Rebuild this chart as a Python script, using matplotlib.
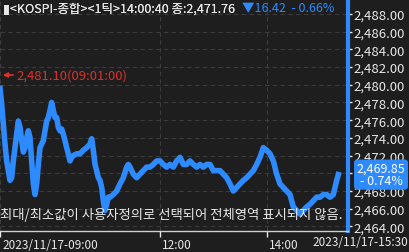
import matplotlib
matplotlib.use("Agg")
import matplotlib.pyplot as plt
import matplotlib.transforms as mtransforms

plt.rcParams['font.family'] = ['Noto Sans CJK KR', 'DejaVu Sans']

# tick position (chart ticks) and KOSPI price
tick_pos = [0, 5, 10, 15, 20, 25, 30, 35, 40, 45, 50, 55, 60, 65, 70, 75, 80, 85, 90, 95,
            100, 105, 110, 115, 120, 125, 130, 135, 140, 145, 150, 155, 160, 165, 170, 175,
            180, 185, 190, 195, 200, 205, 210, 215, 220, 230, 240, 250, 260, 270, 275, 280,
            285, 290, 295, 300, 305, 310, 315, 320, 325, 330, 340, 350, 360, 370, 380, 385,
            390, 400, 410, 420, 430, 440, 450, 460, 470, 480, 490, 500, 510, 520, 530, 540,
            550, 560, 570, 580, 590, 600, 610, 620, 630, 640, 650, 660, 670, 680, 690, 700,
            710, 720, 730, 740, 750, 760, 770, 780, 790, 800, 810, 820, 830, 840, 850, 860,
            870, 880, 890, 900, 910, 920, 930, 940, 950, 960, 970, 980, 990, 1000, 1010, 1015]
price = [2479.6, 2477.8, 2475.6, 2473.3, 2471.4, 2470.3, 2469.2, 2469.5, 2471.4, 2472.9,
         2474.4, 2475.9, 2475.2, 2473.7, 2472.4, 2472.9, 2474.0, 2474.8, 2474.0, 2471.4,
         2468.8, 2467.6, 2468.8, 2471.0, 2472.9, 2473.3, 2473.7, 2474.8, 2475.9, 2476.3,
         2477.1, 2478.0, 2477.1, 2476.3, 2476.3, 2475.2, 2474.8, 2475.0, 2474.4, 2473.7,
         2472.9, 2472.2, 2471.4, 2471.8, 2472.0, 2472.2, 2472.2, 2472.6, 2472.9, 2473.3,
         2473.9, 2472.6, 2471.0, 2470.3, 2469.5, 2469.2, 2468.4, 2466.9, 2465.8, 2466.5,
         2467.3, 2467.3, 2467.6, 2468.0, 2468.8, 2469.5, 2470.7, 2471.0, 2470.7, 2469.9,
         2469.5, 2469.9, 2470.3, 2470.7, 2470.7, 2471.0, 2471.4, 2471.4, 2471.0, 2470.7,
         2471.0, 2470.7, 2471.4, 2471.8, 2471.0, 2471.0, 2471.4, 2471.0, 2470.7, 2471.0,
         2470.7, 2471.0, 2471.0, 2470.3, 2470.3, 2470.3, 2469.9, 2469.5, 2468.8, 2468.0,
         2468.4, 2468.8, 2469.2, 2469.5, 2469.9, 2470.3, 2471.0, 2471.8, 2472.9, 2472.6,
         2472.2, 2471.4, 2469.9, 2468.8, 2468.4, 2468.0, 2467.6, 2466.2, 2465.8, 2465.4,
         2465.8, 2466.2, 2466.5, 2466.9, 2467.3, 2467.3, 2467.6, 2467.6, 2467.3, 2467.6,
         2469.2, 2469.85]

y_ticks = [2464, 2466, 2468, 2470, 2472, 2474, 2476, 2478, 2480, 2482, 2484, 2486, 2488]
x_ticks = [0, 480, 801]
x_labels = ['2023/11/17-09:00', '12:00', '14:00']
last_label = '2023/11/17-15:30'
high_val, high_time = 2481.10, '09:01:00'
last_price, last_pct = 2469.85, -0.74

BG = '#1e1e1e'
BLUE = '#2e8bff'
TXT = '#e8e8e8'
RED = '#e0302c'

fig = plt.figure(figsize=(4.09, 2.53), dpi=100, facecolor=BG)
ax = fig.add_axes([0, 21/253, 348/409, 232/253], facecolor=BG)

ax.plot(tick_pos, price, color=BLUE, lw=4, solid_joinstyle='round')

ax.set_xlim(0, 1044)
ax.set_ylim(2463.48, 2489.69)

ax.set_yticks(y_ticks)
# 2,470 label sits under the last-price box
ax.set_yticklabels(['' if v == 2470 else '{:,.2f}'.format(v) for v in y_ticks])
ax.yaxis.tick_right()
ax.tick_params(axis='y', colors=TXT, length=3, width=1, pad=1, labelsize=9.5)
ax.set_xticks(x_ticks)
ax.set_xticklabels(x_labels, ha='left')
ax.tick_params(axis='x', colors=TXT, length=4, width=1, pad=1, labelsize=8.5)
offset = mtransforms.ScaledTranslation(2/100, 0, fig.dpi_scale_trans)
for lbl in ax.get_xticklabels():
    lbl.set_transform(lbl.get_transform() + offset)

ax.grid(True, color='#3c3c3c', ls=(0, (4, 3)), lw=0.8)
for s in ['left', 'top']:
    ax.spines[s].set_visible(False)
ax.spines['bottom'].set_color('#cfcfcf')
ax.spines['bottom'].set_linewidth(1)
ax.spines['right'].set_color(BLUE)
ax.spines['right'].set_linewidth(3)

# header: white part, then blue change right after it
head = fig.text(3/409, 1 - 9/253, '▮<KOSPI-종합><1틱>14:00:40 종:2,471.76', color=TXT,
                fontsize=9, va='center', ha='left')
fig.add_artist(head)
ax.annotate('▼16.42  - 0.66%', xy=(1, 0.5), xycoords=head, xytext=(5, 0),
            textcoords='offset points', color=BLUE, fontsize=9, va='center', ha='left',
            annotation_clip=False)

# high marker
ax.annotate('', xy=(0, high_val), xytext=(48, high_val),
            arrowprops=dict(arrowstyle='-|>', color=RED, lw=1.2, mutation_scale=7))
ax.text(50, high_val, '{:,.2f}({})'.format(high_val, high_time), color=RED,
        fontsize=9.4, va='center', ha='left')

# notice
ax.text(0.0, 2465.4, '최대/최소값이 사용자정의로 선택되어 전체영역 표시되지 않음.',
        color=TXT, fontsize=9.6, va='center', ha='left')

# last price box
trans = mtransforms.blended_transform_factory(fig.transFigure, ax.transData)
ax.text(381/409, last_price, '{:,.2f}\n- {:.2f}%'.format(last_price, abs(last_pct)),
        transform=trans, color='white', fontsize=9, va='center', ha='center',
        linespacing=0.9, clip_on=False,
        bbox=dict(boxstyle='round,pad=0.15,rounding_size=0.2', fc=BLUE, ec=BLUE))

fig.text(408/409, 1 - 243/253, last_label, color=TXT, fontsize=8.5, va='center', ha='right')

fig.savefig('out.png', dpi=100, facecolor=BG)
